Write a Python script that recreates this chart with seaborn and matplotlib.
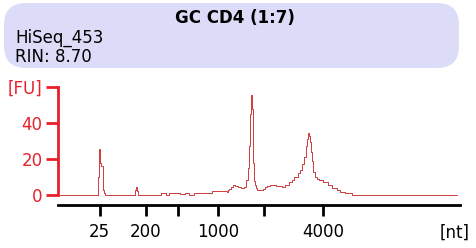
import numpy as np
import pandas as pd
import seaborn as sns
import matplotlib.pyplot as plt
from matplotlib.patches import FancyBboxPatch

sns.set_style("white")
plt.rcParams['font.family'] = ['DejaVu Sans']
plt.rcParams['text.color'] = 'black'
plt.rcParams['xtick.color'] = 'black'

# electropherogram trace (migration time in s, fluorescence in FU)
time_s = [19.25, 23.85, 23.98, 24.10, 24.22, 24.35, 24.47, 24.60, 24.72, 24.85,
          28.45, 28.58, 28.70, 28.83, 28.95, 29.07,
          31.69, 31.81, 32.31, 32.44, 32.69, 32.81, 34.17, 34.30, 34.67, 34.80,
          35.29, 35.42, 35.79, 35.92, 38.15, 38.28,
          39.90, 40.02, 40.15, 40.39, 40.64, 40.89, 41.26, 41.64, 41.89, 42.26,
          42.51, 42.64, 42.76, 42.88, 43.01, 43.09, 43.16, 43.26, 43.38, 43.51,
          43.63, 43.76, 44.37, 44.62, 44.87, 45.12, 45.62, 46.61, 47.11, 47.48,
          47.86, 48.23, 48.60, 48.98, 49.22, 49.47, 49.72, 49.91, 50.03, 50.16,
          50.28, 50.40, 50.53, 50.65, 50.84, 51.09, 51.34, 51.59, 52.21, 52.83,
          53.45, 53.83, 54.32, 55.07, 55.94, 68.63]
fu = [0, 0, 10, 17, 25.5, 18, 16, 3, 1, 0,
      0, 2.5, 4.6, 2, 0.3, 0,
      0, 1, 1, 0, 0, 1, 1, 0.3, 0.3, 1,
      1, 0, 0, 1, 1, 2.2,
      2.2, 1.5, 2.5, 3.5, 4.5, 5.5, 5, 4.6, 3.9, 4.5,
      8.3, 15, 27, 45, 52, 55.5, 48, 18, 8, 5.5,
      4, 2.8, 2.5, 3.3, 4.5, 5, 5.5, 5, 4.6, 5.5,
      7.4, 8.5, 10, 12, 14, 17, 21, 27, 31, 34.3,
      33, 29.6, 24, 19, 13, 10, 9, 8.3, 7, 5.5,
      3.9, 3, 1.9, 1, 0, 0]

x_tick_pos = [24.2, 29.9, 33.9, 38.9, 44.6, 52.0]
x_tick_labels = ['25', '200', '', '1000', '', '4000']
y_tick_pos = [0, 20, 40, 60]
y_tick_labels = ['0', '20', '40', '[FU]']

title = 'GC CD4 (1:7)'
sample = 'HiSeq_453'
rin = 'RIN: 8.70'

W, H = 477, 248
fig = plt.figure(figsize=(W / 100, H / 100), dpi=100)

# header box drawn in pixel coordinates
bg = fig.add_axes([0, 0, 1, 1])
bg.set_xlim(0, W)
bg.set_ylim(H, 0)
bg.axis('off')
box = FancyBboxPatch((4 + 22, 3 + 22), 455 - 44, 65 - 44,
                     boxstyle="round,pad=22", fc="#dcdcf8", ec="none")
bg.add_patch(box)
bg.text(235, 18, title, ha='center', va='center', fontsize=12, fontweight='bold')
bg.text(15, 38, sample, ha='left', va='center', fontsize=12)
bg.text(15, 57, rin, ha='left', va='center', fontsize=12)
bg.text(470, 233, '[nt]', ha='right', va='center', fontsize=12)

ax = fig.add_axes([58 / W, (H - 205) / H, 402 / W, 118 / H])
df = pd.DataFrame({'t': time_s, 'fu': fu})
sns.lineplot(data=df, x='t', y='fu', ax=ax, color='#cc3b3b', lw=0.7,
             estimator=None, drawstyle='steps-mid')
ax.set_xlim(19, 69)
ax.set_ylim(-5.56, 60)
ax.set_xlabel('')
ax.set_ylabel('')

for s in ['top', 'right']:
    ax.spines[s].set_visible(False)
ax.spines['left'].set_color('#e8202a')
ax.spines['left'].set_linewidth(2)
ax.spines['left'].set_bounds(0, 60)
ax.spines['bottom'].set_color('black')
ax.spines['bottom'].set_linewidth(2)

ax.set_xticks(x_tick_pos)
ax.set_xticklabels(x_tick_labels)
ax.set_yticks(y_tick_pos)
ax.set_yticklabels(y_tick_labels)
ax.tick_params(axis='x', direction='out', length=8, width=2, color='black',
               labelcolor='black', labelsize=12, pad=5, bottom=True)
ax.tick_params(axis='y', direction='out', length=9, width=2, color='#e8202a',
               labelcolor='#e8202a', labelsize=12, pad=2, left=True)

fig.savefig('out.png', dpi=100)
